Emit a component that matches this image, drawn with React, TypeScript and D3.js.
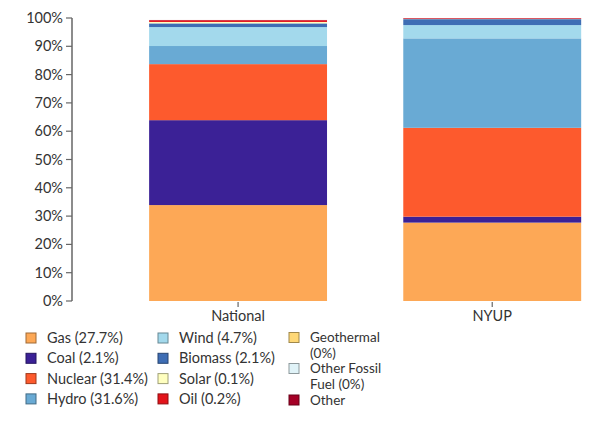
import React from "react";
import * as d3 from "d3";

const regions = ["National", "NYUP"];
const sources = ["Gas", "Coal", "Nuclear", "Hydro", "Wind", "Biomass", "Solar", "Oil", "Geothermal", "Other Fossil Fuel", "Other"];
const nationalValues = [33.9, 30.0, 19.8, 6.4, 6.7, 1.3, 0.5, 0.6, 0.0, 0.0, 0.1];
const nyupValues = [27.7, 2.1, 31.4, 31.6, 4.7, 2.1, 0.1, 0.2, 0.0, 0.0, 0.1];
const colors = ["#fda856", "#3b2196", "#fd5a2d", "#69aad4", "#a3d9ec", "#3e6db4", "#ffffbf", "#e3141b", "#fed877", "#e0f3f8", "#a50026"];
const legendLabels = [
  ["Gas (27.7%)"], ["Coal (2.1%)"], ["Nuclear (31.4%)"], ["Hydro (31.6%)"],
  ["Wind (4.7%)"], ["Biomass (2.1%)"], ["Solar (0.1%)"], ["Oil (0.2%)"],
  ["Geothermal", "(0%)"], ["Other Fossil", "Fuel (0%)"], ["Other"],
];
const yTicks = [0, 10, 20, 30, 40, 50, 60, 70, 80, 90, 100];

const W = 600, H = 422;
const font = "'Source Sans Pro', Lato, 'Open Sans', sans-serif";

export default function App() {
  const y = d3.scaleLinear().domain([0, 100]).range([301, 18]);
  const x = d3.scaleBand<string>().domain(regions).range([111, 619.3]).paddingInner(0.3).paddingOuter(0.15);
  const rows = regions.map((r, i) => {
    const vals = i === 0 ? nationalValues : nyupValues;
    const o: any = { region: r };
    sources.forEach((s, j) => (o[s] = vals[j]));
    return o;
  });
  const stacked = d3.stack<any>().keys(sources)(rows);

  const colX = [26, 158, 289];
  const textDX = 21;
  const legendItems: { col: number; y: number; lines: string[]; i: number; lh: number }[] = [];
  for (let i = 0; i < 8; i++) {
    legendItems.push({ col: Math.floor(i / 4), y: 338 + (i % 4) * 20.3, lines: legendLabels[i], i, lh: 15 });
  }
  legendItems.push({ col: 2, y: 337.5, lines: legendLabels[8], i: 8, lh: 15.5 });
  legendItems.push({ col: 2, y: 368.5, lines: legendLabels[9], i: 9, lh: 15.5 });
  legendItems.push({ col: 2, y: 400, lines: legendLabels[10], i: 10, lh: 15 });

  return (
    <svg width={W} height={H} style={{ position: "absolute", left: 0, top: 0, background: "#fff" }} fontFamily={font}>
      {stacked.map((layer, j) =>
        layer.map((d, k) => (
          <rect key={`${j}-${k}`} x={x(regions[k])} width={x.bandwidth()} y={y(d[1])} height={Math.max(0, y(d[0]) - y(d[1]))} fill={colors[j]} />
        ))
      )}
      <line x1={72} x2={72} y1={y(100)} y2={y(0)} stroke="#666" strokeWidth={1.5} />
      {yTicks.map((t) => (
        <g key={t} transform={`translate(0,${y(t)})`}>
          <line x1={66} x2={72} stroke="#666" strokeWidth={1.2} />
          <text x={63} dy="0.35em" textAnchor="end" fontSize={14.5} fill="#333">{`${t}%`}</text>
        </g>
      ))}
      {regions.map((r) => {
        const cx = (x(r) as number) + x.bandwidth() / 2;
        return (
          <g key={r}>
            <line x1={cx} x2={cx} y1={302} y2={307} stroke="#666" strokeWidth={1.2} />
            <text x={cx} y={321} textAnchor="middle" fontSize={14.5} fill="#333">{r}</text>
          </g>
        );
      })}
      {legendItems.map((it) => (
        <g key={it.i}>
          <rect x={colX[it.col]} y={it.y - 5} width={10} height={10} fill={colors[it.i]} stroke={d3.color(colors[it.i])!.darker(1.3).formatHex()} strokeWidth={1} />
          {it.lines.map((l, li) => (
            <text key={li} x={colX[it.col] + textDX} y={it.y + li * it.lh} dy="0.35em" fontSize={it.lines.length > 1 || it.col === 2 ? 13.5 : 14.5} fill="#333">{l}</text>
          ))}
        </g>
      ))}
    </svg>
  );
}
